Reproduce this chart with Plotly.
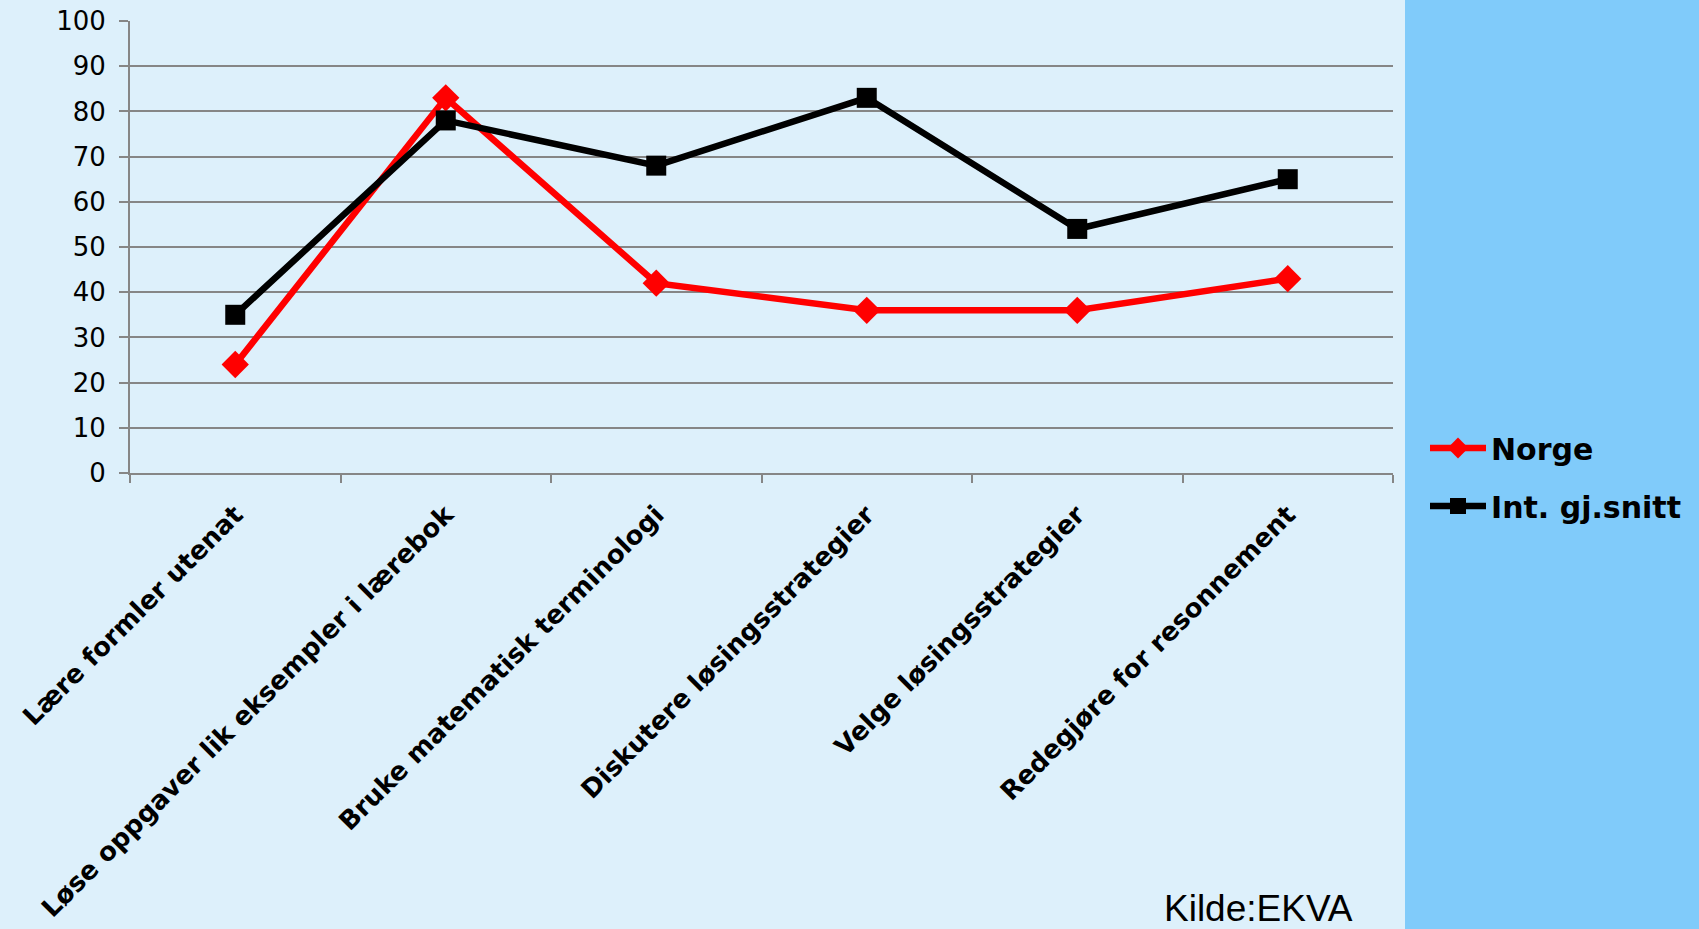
import plotly.graph_objects as go

categories = [
    "Lære formler utenat",
    "Løse oppgaver lik eksempler i lærebok",
    "Bruke matematisk terminologi",
    "Diskutere løsingsstrategier",
    "Velge løsingsstrategier",
    "Redegjøre for resonnement",
]
norge = [24, 83, 42, 36, 36, 43]
int_snitt = [35, 78, 68, 83, 54, 65]
y_ticks = [0, 10, 20, 30, 40, 50, 60, 70, 80, 90, 100]

W, H = 1699, 929
L, R, T, B = 130, 1699 - 1393, 21, 929 - 473
pw, ph = W - L - R, H - T - B

fig = go.Figure()
fig.add_trace(go.Scatter(
    x=categories, y=norge, name="Norge", mode="lines+markers", legendgroup="a",
    line=dict(color="#FF0000", width=6.5),
    marker=dict(symbol="diamond", size=21, color="#FF0000"),
))
fig.add_trace(go.Scatter(
    x=categories, y=int_snitt, name="Int. gj.snitt", mode="lines+markers", legendgroup="b",
    line=dict(color="#000000", width=6.5),
    marker=dict(symbol="square", size=20, color="#000000"),
))

# right-hand panel
fig.add_shape(type="rect", xref="paper", yref="paper",
              x0=(1405 - L) / pw, x1=2.0, y0=-2.0, y1=2.0,
              fillcolor="#80CBFA", line=dict(width=0), layer="below")

fig.add_annotation(text="Kilde:EKVA", xref="paper", yref="paper",
                   x=(1162 - L) / pw, xanchor="left",
                   y=-(931 - 473) / ph, yanchor="bottom",
                   showarrow=False,
                   font=dict(family="Liberation Sans, Arial", size=37, color="#000000"))

fig.update_layout(
    width=W, height=H,
    margin=dict(l=L, r=R, t=T, b=B, pad=0, autoexpand=False),
    paper_bgcolor="#DDF0FB",
    plot_bgcolor="#DDF0FB",
    showlegend=True,
    legend=dict(x=(1425 - L) / pw, xanchor="left", y=(473 - 422) / ph, yanchor="top",
                bgcolor="rgba(0,0,0,0)",
                font=dict(family="DejaVu Sans", size=30, color="#000000", weight="bold"),
                itemwidth=56, tracegroupgap=16),
    font=dict(family="DejaVu Sans", color="#000000"),
)
fig.update_xaxes(
    type="category", range=[-0.5, 5.5], automargin=False,
    tickangle=-45, tickson="boundaries", ticks="outside", ticklen=8, tickwidth=1.5,
    tickcolor="#868686", showline=True, linecolor="#868686", linewidth=2,
    showgrid=False, zeroline=False, ticklabelstandoff=14,
    tickfont=dict(family="DejaVu Sans", size=26, color="#000000", weight="bold"),
)
fig.update_yaxes(
    range=[0, 100], tickvals=y_ticks, ticks="outside", ticklen=9, tickwidth=1.5,
    automargin=False,
    tickcolor="#868686", showline=True, linecolor="#868686", linewidth=2,
    showgrid=True, gridcolor="#868686", gridwidth=1.5, zeroline=False,
    ticklabelstandoff=8,
    tickfont=dict(family="DejaVu Sans", size=26, color="#000000"),
)

fig.write_html("out.html", config={"displayModeBar": False},
               post_script="document.body.style.margin='0px';document.body.style.overflow='hidden';")
